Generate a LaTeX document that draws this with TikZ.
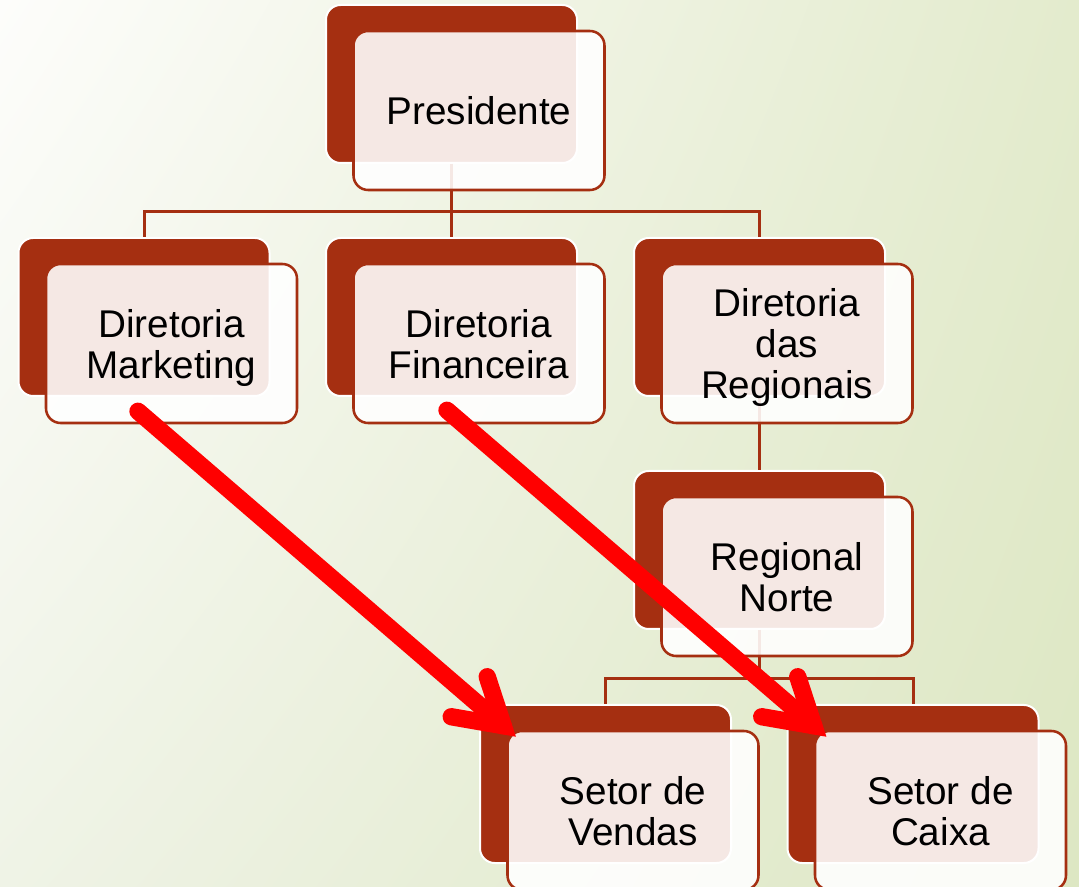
\documentclass[tikz,border=0pt]{standalone}
\usepackage{fontspec}
\setmainfont{Liberation Sans}
\usepackage{xcolor}
\usepackage{tikz}
\usetikzlibrary{calc}
\usetikzlibrary{shadings}

\definecolor{rust}{HTML}{A52F11}
\definecolor{bgtl}{HTML}{FDFDFB}
\definecolor{bgtr}{HTML}{E3EBCD}
\definecolor{bgbl}{HTML}{EFF3E6}
\definecolor{bgbr}{HTML}{DDE7C3}

\tikzset{
    backbox/.style={draw=white, line width=1.5pt, fill=rust, rounded corners=11pt,
        minimum width=188.25pt, minimum height=118.5pt, inner sep=0pt},
    frontbox/.style={draw=rust, line width=1.9pt, fill=white, fill opacity=0.89,
        text opacity=1, rounded corners=11pt, minimum width=188.25pt,
        minimum height=119.25pt, inner sep=0pt, align=center, text depth=0pt,
        font=\fontsize{29}{30.75}\selectfont},
    tree/.style={draw=rust, line width=2.25pt},
    redarrow/.style={draw=red, line width=13pt, line cap=round, line join=miter,
        preaction={draw=black, draw opacity=0.15,
            transform canvas={shift={(1.5pt,-1.5pt)}}}},
}

\begin{document}
\begin{tikzpicture}[x=0.75pt, y=-0.75pt]
        \useasboundingbox (0,0) rectangle (1079,887);
        \shade[upper left=bgtl, upper right=bgtr, lower left=bgbl,
            lower right=bgbr] (0,0) rectangle (1079,887);

        \node[backbox] (presb) at (451.5,84) {};
        \node[backbox] (mktb) at (144,317) {};
        \node[backbox] (finb) at (451.5,317) {};
        \node[backbox] (regb) at (759.5,317) {};
        \node[backbox] (nortb) at (759.5,550) {};
        \node[backbox] (vendb) at (605.5,784) {};
        \node[backbox] (caixb) at (913,784) {};

        \draw[tree] (presb.south) -- (finb.north);
        \draw[tree] (mktb.north) -- ++(0,-25) -| (regb.north);
        \draw[tree] (regb.south) -- (nortb.north);
        \draw[tree] (nortb.south) -- ($(nortb.south |- vendb.north)+(0,-25)$);
        \draw[tree] (vendb.north) -- ++(0,-25) -| (caixb.north);

        \node[frontbox] (pres) at ([shift={(27.5,26.5)}]presb.center) {Presidente};
        \node[frontbox] (mkt) at ([shift={(27.5,26.5)}]mktb.center) {Diretoria\\Marketing};
        \node[frontbox] (fin) at ([shift={(27.5,26.5)}]finb.center) {Diretoria\\Financeira};
        \node[frontbox] (reg) at ([shift={(27.5,26.5)}]regb.center) {Diretoria\\das\\Regionais};
        \node[frontbox] (nort) at ([shift={(27.5,26.5)}]nortb.center) {Regional\\Norte};
        \node[frontbox] (vend) at ([shift={(27.5,26.5)}]vendb.center) {Setor de\\Vendas};
        \node[frontbox] (caix) at ([shift={(27.5,26.5)}]caixb.center) {Setor de\\Caixa};

        \coordinate (mktstart) at ([shift={(-33.5,-13)}]mkt.south);
        \coordinate (vendtip) at ([shift={(-3,-4)}]vend.north west);
        \coordinate (finstart) at ([shift={(-32,-14)}]fin.south);
        \coordinate (caixtip) at ([shift={(0,-4)}]caix.north west);

        \draw[redarrow] (mktstart) -- (vendtip);
        \draw[redarrow] ([shift={(-16,-49)}]vendtip) -- (vendtip)
            -- ([shift={(-52,-9)}]vendtip);
        \draw[redarrow] (finstart) -- (caixtip);
        \draw[redarrow] ([shift={(-16,-49)}]caixtip) -- (caixtip)
            -- ([shift={(-52,-9)}]caixtip);
    \end{tikzpicture}
\end{document}
